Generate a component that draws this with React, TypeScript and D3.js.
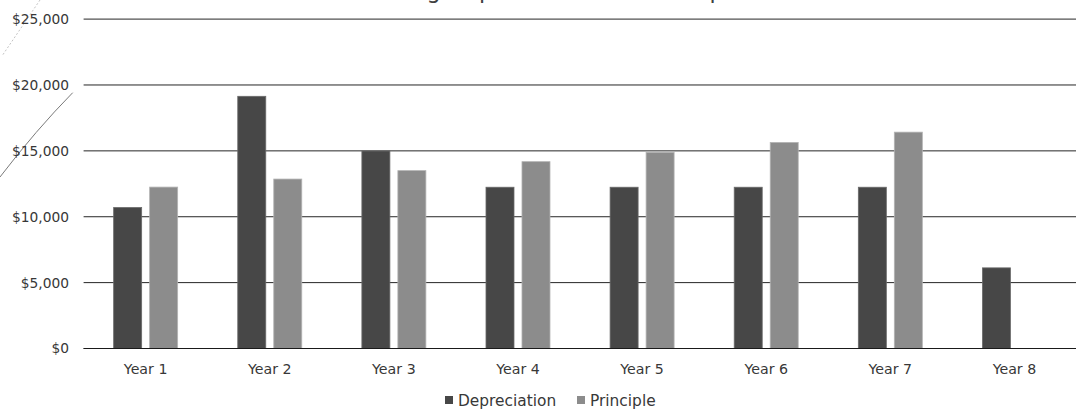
import React, { useEffect } from "react";
import * as d3 from "d3";

// Annual amounts per year of the loan
const years = ["Year 1", "Year 2", "Year 3", "Year 4", "Year 5", "Year 6", "Year 7", "Year 8"];
const depreciation = [10700, 19140, 14990, 12240, 12240, 12240, 12240, 6120];
const principle: (number | null)[] = [12250, 12860, 13500, 14180, 14890, 15640, 16420, null];
const seriesNames = ["Depreciation", "Principle"];
const seriesColors = ["#474747", "#8c8c8c"];
const seriesStrokes = ["#6a6a6a", "#b3b3b3"];
const yTicks = [0, 5000, 10000, 15000, 20000, 25000];
const title = "Tracking Depreciation and Principle";

const W = 1076;
const H = 411;
const FONT = "'DejaVu Sans', sans-serif";

export default function App() {
  useEffect(() => {
    document.body.style.margin = "0";
  }, []);

  const y = d3.scaleLinear().domain([0, 25000]).range([348.5, 19.1]);
  const x0 = d3.scaleBand<string>().domain(years).range([83.6, 1076.5]);
  const groupW = 64;
  const x1 = d3
    .scaleBand<string>()
    .domain(seriesNames)
    .range([(x0.bandwidth() - groupW) / 2, (x0.bandwidth() + groupW) / 2])
    .paddingInner(0.222);

  const fmt = (v: number) => "$" + d3.format(",")(v);
  const series = [depreciation, principle];

  return (
    <svg width={W} height={H} style={{ display: "block", background: "#fff" }}>
      {/* Chart title, mostly above the top edge */}
      <text x={347} y={-2} fontFamily={FONT} fontSize={22.5} fill="#404040">
        {title}
      </text>

      {/* Pen strokes on the left margin */}
      <path d="M 72.7 92.7 Q 36 130 0 177" fill="none" stroke="#7a7a7a" strokeWidth={1} />
      <path d="M 40 0 L 2 56" fill="none" stroke="#c4c4c4" strokeWidth={1} strokeDasharray="2,2" />

      {/* Gridlines and y tick labels */}
      {yTicks.map((t) => (
        <g key={t}>
          <line x1={83.6} x2={W} y1={y(t)} y2={y(t)} stroke="#262626" strokeWidth={1} />
          <text
            x={69}
            y={y(t)}
            dy="0.36em"
            textAnchor="end"
            fontFamily={FONT}
            fontSize={13.8}
            fill="#383838"
          >
            {fmt(t)}
          </text>
        </g>
      ))}

      {/* Bars */}
      {years.map((yr, i) => (
        <g key={yr} transform={`translate(${x0(yr)},0)`}>
          {series.map((s, k) => {
            const v = s[i];
            if (v == null) return null;
            return (
              <rect
                key={k}
                x={x1(seriesNames[k])}
                y={y(v)}
                width={x1.bandwidth()}
                height={y(0) - y(v)}
                fill={seriesColors[k]}
                stroke={seriesStrokes[k]}
                strokeWidth={0.8}
              />
            );
          })}
          <text
            x={x0.bandwidth() / 2}
            y={374}
            textAnchor="middle"
            fontFamily={FONT}
            fontSize={14.2}
            fill="#383838"
          >
            {yr}
          </text>
        </g>
      ))}

      {/* Baseline */}
      <line x1={83.6} x2={W} y1={y(0)} y2={y(0)} stroke="#1a1a1a" strokeWidth={1} />

      {/* Legend */}
      {seriesNames.map((name, k) => {
        const lx = [445, 577][k];
        return (
          <g key={name}>
            <rect x={lx} y={396} width={8} height={8} fill={seriesColors[k]} />
            <text x={lx + 13} y={406} fontFamily={FONT} fontSize={15.4} fill="#383838">
              {name}
            </text>
          </g>
        );
      })}
    </svg>
  );
}
